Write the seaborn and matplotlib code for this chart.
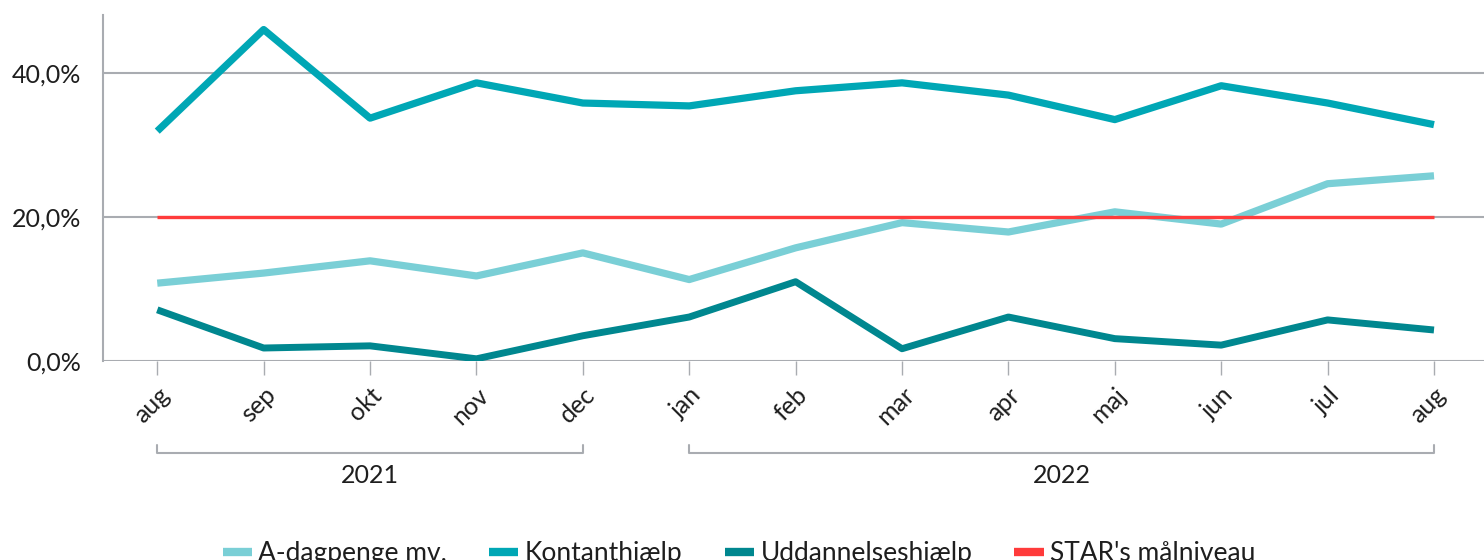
import matplotlib
matplotlib.use("Agg")
import matplotlib.pyplot as plt
import matplotlib.transforms as mtransforms
from matplotlib.lines import Line2D
from matplotlib.ticker import FuncFormatter
import seaborn as sns
import pandas as pd

months = ['aug', 'sep', 'okt', 'nov', 'dec', 'jan', 'feb', 'mar', 'apr', 'maj', 'jun', 'jul', 'aug']
a_dagpenge = [10.8, 12.2, 13.9, 11.8, 15.0, 11.3, 15.7, 19.2, 17.9, 20.7, 19.0, 24.6, 25.7]
kontanthjaelp = [31.9, 46.0, 33.7, 38.6, 35.8, 35.4, 37.5, 38.6, 36.9, 33.5, 38.2, 35.8, 32.8]
uddannelse = [7.1, 1.8, 2.1, 0.3, 3.5, 6.1, 11.0, 1.7, 6.1, 3.1, 2.2, 5.7, 4.3]
star_goal = [20.0] * 13
years = [('2021', 0, 4), ('2022', 5, 12)]

names = ['A-dagpenge mv.', 'Kontanthjælp', 'Uddannelseshjælp', "STAR's målniveau"]
colors = {'A-dagpenge mv.': '#7acfd6', 'Kontanthjælp': '#00a7b5',
          'Uddannelseshjælp': '#00878f', "STAR's målniveau": '#ff3b3b'}
widths = {'A-dagpenge mv.': 5.2, 'Kontanthjælp': 5.2, 'Uddannelseshjælp': 5.0, "STAR's målniveau": 2.4}

rows = []
for name, vals in zip(names, [a_dagpenge, kontanthjaelp, uddannelse, star_goal]):
    for i, v in enumerate(vals):
        rows.append({'idx': i, 'value': v, 'serie': name})
df = pd.DataFrame(rows)

sns.set_style('white')
plt.rcParams['font.family'] = ['Lato', 'DejaVu Sans']

fig = plt.figure(figsize=(14.84, 5.6), dpi=100)
ax = fig.add_axes([0.0694, 0.3554, 0.9306, 0.6176])

grey = '#a9acb1'
txt = '#1e1e1e'
for name in names:
    sub = df[df['serie'] == name]
    sns.lineplot(data=sub, x='idx', y='value', ax=ax, color=colors[name],
                 linewidth=widths[name], legend=False, solid_capstyle='butt',
                 zorder=3 if name != "STAR's målniveau" else 4)

ax.set_xlim(-0.51, 12.47)
ax.set_ylim(0, 48)
ax.set_yticks([0, 20, 40])
ax.yaxis.set_major_formatter(FuncFormatter(lambda v, p: f'{v:.1f}'.replace('.', ',') + '%'))
ax.set_xticks(range(len(months)))
ax.set_xticklabels(months, rotation=45, ha='right', rotation_mode='anchor')
ax.grid(axis='y', color=grey, linewidth=1.5, zorder=1)
ax.set_xlabel('')
ax.set_ylabel('')
for s in ['top', 'right', 'bottom']:
    ax.spines[s].set_visible(False)
ax.spines['left'].set_color(grey)
ax.spines['left'].set_linewidth(1.5)
ax.tick_params(axis='y', length=10, width=1.5, color=grey, labelsize=18, pad=6, labelcolor=txt)
ax.tick_params(axis='x', length=10, width=1, color=grey, labelsize=18, pad=6, labelcolor=txt)
ax.tick_params(axis='x', direction='out', bottom=True)

# year brackets below the month labels
trans = mtransforms.blended_transform_factory(ax.transData, ax.transAxes)
for label, i0, i1 in years:
    ax.plot([i0, i0, i1, i1], [-0.243, -0.266, -0.266, -0.243], transform=trans,
            color=grey, linewidth=1.5, clip_on=False)
    ax.text((i0 + i1) / 2, -0.33, label, transform=trans, ha='center', va='center',
            fontsize=18, color=txt)

handles = [Line2D([0], [0], color=colors[n], linewidth=6, solid_capstyle='butt') for n in names]
fig.legend(handles, names, loc='center', bbox_to_anchor=(0.498, 0.012), ncol=4,
           frameon=False, fontsize=19, handlelength=1.1, handletextpad=0.25,
           columnspacing=1.6, labelcolor=txt)

fig.savefig('out.png', dpi=100)
